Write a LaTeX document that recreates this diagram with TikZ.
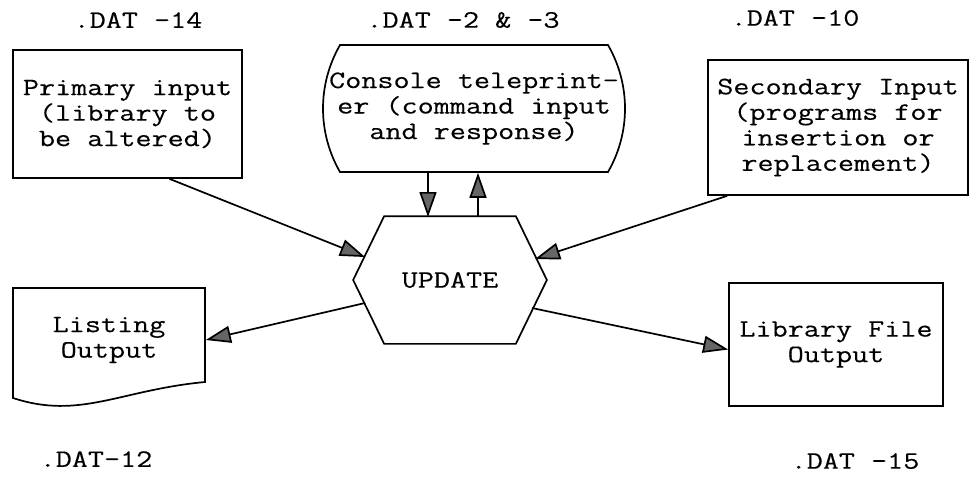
\documentclass[tikz,border=0pt]{standalone}
\usepackage{fontspec}
\usepackage{tikz}
\usetikzlibrary{arrows.meta,positioning,shapes.misc,calc}
\newfontfamily\typefont[FakeStretch=1.25,FakeBold=0.3]{Latin Modern Mono}
\newcommand{\boxfont}{\fontsize{25}{25.5}\selectfont\typefont}

\begin{document}
\begin{tikzpicture}[x=1pt,y=-1pt,line width=1.7pt,
  box/.style={draw,align=center,font=\boxfont,inner sep=0pt},
  term/.style={draw,rounded rectangle,rounded rectangle arc length=60,
            align=center,font=\boxfont,inner sep=0pt},
  txt/.style={align=center,font=\boxfont,inner sep=0pt},
  lab/.style={font=\boxfont,inner sep=0pt},
  arr/.style={-{Triangle[length=25pt,width=17pt,fill=black!60]}}]
\useasboundingbox (0,0) rectangle (976,479);
\node[lab] (d14) at (138,20) {.DAT -14};
\node[lab] (d23) at (463,20) {.DAT -2 \& -3};
\node[lab] (d10) at (795,18) {.DAT -10};
\node[lab] (d12) at (96,459) {.DAT-12};
\node[lab] (d15) at (855,461) {.DAT -15};
\node[box,minimum width=229pt,minimum height=128pt] (prim) at (127.5,114)
  {Primary input\\(library to\\be altered)};
\node[term,minimum width=302pt,minimum height=127pt] (tele) at (474,108.5)
  {Console teleprint-\\er (command input\\and response)};
\node[box,minimum width=260pt,minimum height=135pt] (sec) at (838,127.5)
  {Secondary Input\\(programs for\\insertion or\\replacement)};
\node[txt,minimum width=192pt,minimum height=126pt] (upd) at (450,280) {UPDATE};
\draw ($(upd.north west)+(31,0)$) -- ($(upd.north east)+(-31,0)$) -- (upd.east)
  -- ($(upd.south east)+(-31,0)$) -- ($(upd.south west)+(31,0)$) -- (upd.west) -- cycle;
\node[txt,minimum width=192pt] (lst) at (109,340) {Listing\\Output};
\draw (13,288) -- (205,288) -- (205,382) .. controls (120,390) and (80,420) .. (13,398) -- cycle;
\node[box,minimum width=214pt,minimum height=123pt] (lib) at (836,344.5)
  {Library File\\Output};
\coordinate (hexL) at (365,257);
\coordinate (hexR) at (535,259);
\coordinate (hexLL) at (365,303);
\coordinate (hexLR) at (532,308);
\coordinate (hexTa) at (428,217);
\coordinate (hexTb) at (478,217);
\draw[arr] ([xshift=42pt]prim.south) -- (hexL);
\draw[arr] ([xshift=20pt]sec.south west) -- (hexR);
\draw[arr] (tele.south -| hexTa) -- (hexTa);
\draw[arr] (hexTb) -- (tele.south -| hexTb);
\draw[arr] (hexLL) -- (lst.east);
\draw[arr] (hexLR) -- ([yshift=-5pt]lib.west);
\end{tikzpicture}
\end{document}
